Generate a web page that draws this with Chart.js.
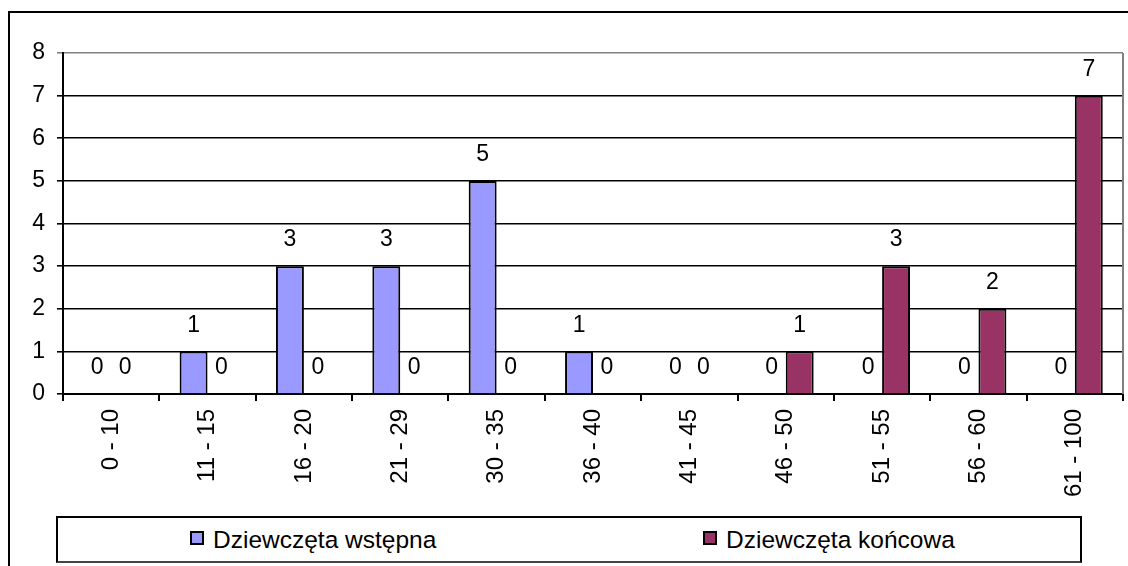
<!DOCTYPE html>
<html>
<head>
<meta charset="utf-8">
<script src="https://cdn.jsdelivr.net/npm/chart.js@4"></script>
<style>
  body { margin: 0; background: #fff; overflow: hidden; font-family: "Liberation Sans", Arial, sans-serif; }
  #frame { position: absolute; left: 8px; top: 11px; width: 2000px; height: 2000px; border-left: 2px solid #000; border-top: 2px solid #000; }
  #wrap { position: absolute; left: 0; top: 0; width: 1128px; height: 566px; }
  #legendBox { position: absolute; left: 56px; top: 516px; width: 1026px; height: 47px; box-sizing: border-box; border: 2px solid #000; border-bottom-color: #444; background: #fff; }
  .item { position: absolute; top: 0; height: 43px; line-height: 43px; font-size: 24.5px; color: #000; white-space: nowrap; }
  .sw { position: absolute; top: 13px; width: 14px; height: 14px; box-sizing: border-box; border: 2px solid #000; }
</style>
</head>
<body>
<div id="frame"></div>
<div id="wrap"><canvas id="chart" width="1128" height="566"></canvas></div>
<div id="legendBox">
  <span class="sw" style="left:132px;background:#9999FF"></span><span class="item" style="left:155px">Dziewczęta wstępna</span>
  <span class="sw" style="left:645px;background:#993366"></span><span class="item" style="left:668px">Dziewczęta końcowa</span>
</div>
<script>
// categories and values
const categories = ["0 - 10", "11 - 15", "16 - 20", "21 - 29", "30 - 35", "36 - 40", "41 - 45", "46 - 50", "51 - 55", "56 - 60", "61 - 100"];
const wstepna = [0, 1, 3, 3, 5, 1, 0, 0, 0, 0, 0];
const koncowa = [0, 0, 0, 0, 0, 0, 0, 1, 3, 2, 7];
const seriesNames = ["Dziewczęta wstępna", "Dziewczęta końcowa"];
const yTicks = [0, 1, 2, 3, 4, 5, 6, 7, 8];

const FONT = "'Liberation Sans', Arial, sans-serif";

// values above bars, like Excel data labels
const valueLabels = {
  id: 'valueLabels',
  afterDatasetsDraw(chart) {
    const ctx = chart.ctx;
    ctx.save();
    ctx.font = "23px " + FONT;
    ctx.fillStyle = "#000";
    ctx.textAlign = "center";
    ctx.textBaseline = "middle";
    chart.data.datasets.forEach((ds, i) => {
      chart.getDatasetMeta(i).data.forEach((bar, j) => {
        ctx.fillText(String(ds.data[j]), bar.x, bar.y - 26);
      });
    });
    ctx.restore();
  }
};

// grey right edge of the plot area
const plotEdge = {
  id: 'plotEdge',
  beforeDatasetsDraw(chart) {
    const a = chart.chartArea;
    const ctx = chart.ctx;
    ctx.save();
    ctx.strokeStyle = "#808080";
    ctx.lineWidth = 2;
    ctx.beginPath();
    ctx.moveTo(a.right, a.top);
    ctx.lineTo(a.right, a.bottom);
    ctx.stroke();
    ctx.restore();
  }
};

new Chart(document.getElementById("chart"), {
  type: "bar",
  data: {
    labels: categories,
    datasets: [
      { label: seriesNames[0], data: wstepna, backgroundColor: "#9999FF", borderColor: "#000", borderWidth: 2 },
      { label: seriesNames[1], data: koncowa, backgroundColor: "#993366", borderColor: "#000", borderWidth: 2 }
    ]
  },
  options: {
    responsive: false,
    animation: false,
    categoryPercentage: 0.58,
    barPercentage: 1,
    layout: { padding: { top: 53, right: 5, left: 0, bottom: 0 } },
    plugins: { legend: { display: false }, tooltip: { enabled: false } },
    scales: {
      x: {
        grid: { offset: true, drawOnChartArea: false, drawTicks: true, tickLength: 7, color: "#000", lineWidth: 2 },
        border: { display: true, color: "#000", width: 2 },
        ticks: { color: "#000", font: { family: FONT, size: 24 }, minRotation: 90, maxRotation: 90, padding: 8, autoSkip: false },
        afterFit(scale) { scale.height = 172; }
      },
      y: {
        min: 0,
        max: 8,
        afterBuildTicks(scale) { scale.ticks = yTicks.map(v => ({ value: v })); },
        grid: {
          color: c => (c.tick && c.tick.value === 8) ? "#808080" : "#000",
          lineWidth: 1.6,
          tickLength: 6
        },
        border: { display: true, color: "#000", width: 2 },
        ticks: { color: "#000", font: { family: FONT, size: 23 }, padding: 12 },
        afterFit(scale) { scale.width = 63; }
      }
    }
  },
  plugins: [valueLabels, plotEdge]
});
</script>
</body>
</html>
